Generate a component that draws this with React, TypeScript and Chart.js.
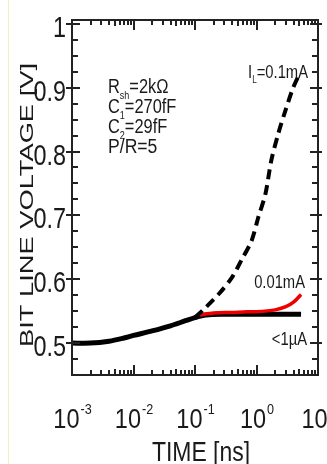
import React, { useEffect, useRef } from "react";
import { Chart, registerables } from "chart.js";

Chart.register(...registerables);

// ---- data ----
const timeLow = [0.001, 0.002, 0.004, 0.007, 0.01, 0.02, 0.04, 0.07, 0.1, 0.15, 0.3, 1, 3, 5.3];
const voltLow = [0.5, 0.5, 0.503, 0.508, 0.512, 0.519, 0.527, 0.535, 0.54, 0.544, 0.545, 0.545, 0.545, 0.545];

const timeMid = [0.12, 0.2, 0.4, 0.7, 1, 2, 3, 4, 5.3];
const voltMid = [0.544, 0.547, 0.548, 0.549, 0.549, 0.552, 0.557, 0.564, 0.576];

const timeHigh = [0.1, 0.15, 0.25, 0.4, 0.57, 0.83, 1.07, 1.4, 1.74, 2.26, 2.95, 3.95, 5.1];
const voltHigh = [0.54, 0.556, 0.578, 0.603, 0.63, 0.66, 0.697, 0.734, 0.786, 0.828, 0.864, 0.9, 0.923];

const yTickValues = [0.5, 0.6, 0.7, 0.8, 0.9, 1];
const yTickLabels = ["0.5", "0.6", "0.7", "0.8", "0.9", "1"];
const xTickValues = [0.001, 0.01, 0.1, 1, 10];
const xTickExponents = ["-3", "-2", "-1", "0", "1"];

const NARROW = '"Liberation Sans Narrow", "Liberation Sans", Arial, sans-serif';
const SANS = '"Liberation Sans", Arial, sans-serif';

function drawText(
  ctx: CanvasRenderingContext2D,
  s: string,
  x: number,
  y: number,
  size: number,
  sx: number,
  align: "left" | "right" | "center",
  family: string = NARROW
): number {
  ctx.save();
  ctx.font = `${size}px ${family}`;
  const w = ctx.measureText(s).width * sx;
  const x0 = align === "right" ? x - w : align === "center" ? x - w / 2 : x;
  ctx.translate(x0, y);
  ctx.scale(sx, 1);
  ctx.textAlign = "left";
  ctx.textBaseline = "alphabetic";
  ctx.fillStyle = "#1a1a1a";
  ctx.fillText(s, 0, 0);
  ctx.restore();
  return w;
}

function measure(ctx: CanvasRenderingContext2D, s: string, size: number, sx: number, family: string = NARROW) {
  ctx.save();
  ctx.font = `${size}px ${family}`;
  const w = ctx.measureText(s).width * sx;
  ctx.restore();
  return w;
}

function drawSub(
  ctx: CanvasRenderingContext2D,
  main: string,
  sub: string,
  rest: string,
  x: number,
  y: number,
  size: number,
  sx: number,
  align: "left" | "right"
) {
  const subSize = Math.round(size * 0.55);
  const total =
    measure(ctx, main, size, sx) + measure(ctx, sub, subSize, sx) + measure(ctx, rest, size, sx);
  let cx = align === "right" ? x - total : x;
  cx += drawText(ctx, main, cx, y, size, sx, "left");
  cx += drawText(ctx, sub, cx, y + size * 0.28, subSize, sx, "left");
  drawText(ctx, rest, cx, y, size, sx, "left");
}

const decorPlugin = {
  id: "decor",
  beforeDraw(chart: any) {
    const ctx = chart.ctx as CanvasRenderingContext2D;
    ctx.save();
    ctx.fillStyle = "#ffffff";
    ctx.fillRect(0, 0, chart.width, chart.height);
    ctx.fillStyle = "#f2eec4";
    ctx.fillRect(8, 0, 1, chart.height);
    ctx.restore();
  },
  afterDraw(chart: any) {
    const ctx = chart.ctx as CanvasRenderingContext2D;
    const { left, right, top, bottom } = chart.chartArea;
    const xs = chart.scales.x;
    const ys = chart.scales.y;
    ctx.save();
    ctx.strokeStyle = "#222";
    ctx.lineWidth = 2;
    ctx.strokeRect(left, top, right - left, bottom - top);

    for (let i = 19; i <= 40; i++) {
      const v = i * 0.025;
      const py = Math.round(ys.getPixelForValue(v));
      const major = i % 4 === 0;
      ctx.beginPath();
      if (major) {
        ctx.moveTo(left - 6, py);
        ctx.lineTo(left + 8, py);
        ctx.moveTo(right - 8, py);
        ctx.lineTo(right + 4, py);
      } else {
        ctx.moveTo(left, py);
        ctx.lineTo(left + 6, py);
        ctx.moveTo(right - 6, py);
        ctx.lineTo(right, py);
      }
      ctx.stroke();
    }
    for (let e = -3; e <= 1; e++) {
      for (let k = 1; k <= 9; k++) {
        const v = k * Math.pow(10, e);
        if (v > 10.0001) continue;
        const px = Math.round(xs.getPixelForValue(v));
        const major = k === 1;
        const len = major ? 10 : k === 5 ? 6 : 5;
        ctx.beginPath();
        ctx.moveTo(px, bottom);
        ctx.lineTo(px, bottom - len);
        ctx.moveTo(px, top);
        ctx.lineTo(px, top + len);
        ctx.stroke();
      }
    }

    yTickValues.forEach((v, i) => {
      const py = ys.getPixelForValue(v);
      drawText(ctx, yTickLabels[i], left - 6, py + 13, 30, 0.78, "right");
    });

    xTickValues.forEach((v, i) => {
      const px = xs.getPixelForValue(v);
      const base = "10";
      const exp = xTickExponents[i];
      const wb = measure(ctx, base, 28, 0.84);
      const we = measure(ctx, exp, 15, 0.84);
      const x0 = px - (wb + we) / 2;
      drawText(ctx, base, x0, 428, 28, 0.84, "left");
      drawText(ctx, exp, x0 + wb + 1, 414, 15, 0.84, "left");
    });

    drawText(ctx, "TIME [ns]", 201, 461, 28, 0.82, "center");

    ctx.save();
    ctx.translate(33, 205);
    ctx.rotate(-Math.PI / 2);
    ctx.font = `18px ${SANS}`;
    const t = "BIT LINE VOLTAGE [V]";
    const tw = ctx.measureText(t).width;
    ctx.scale(284 / tw, 1);
    ctx.fillStyle = "#1a1a1a";
    ctx.textAlign = "center";
    ctx.textBaseline = "alphabetic";
    ctx.fillText(t, 0, 0);
    ctx.restore();

    drawSub(ctx, "R", "sh", "=2kΩ", 108, 93, 20, 0.82, "left");
    drawSub(ctx, "C", "1", "=270fF", 108, 113, 20, 0.82, "left");
    drawSub(ctx, "C", "2", "=29fF", 108, 133, 20, 0.82, "left");
    drawText(ctx, "P/R=5", 108, 153, 20, 0.88, "left");

    drawSub(ctx, "I", "L", "=0.1mA", 308, 78, 18, 0.82, "right");
    drawText(ctx, "0.01mA", 305, 288, 18, 0.82, "right");
    drawText(ctx, "<1µA", 307, 345, 18, 0.82, "right");

    ctx.restore();
  },
};

export default function App() {
  const ref = useRef<HTMLCanvasElement | null>(null);
  useEffect(() => {
    if (!ref.current) return;
    const toPts = (xs: number[], ys: number[]) => xs.map((x, i) => ({ x, y: ys[i] }));
    const chart = new Chart(ref.current, {
      type: "scatter",
      data: {
        datasets: [
          {
            label: "0.1mA",
            data: toPts(timeHigh, voltHigh),
            showLine: true,
            borderColor: "#000",
            borderWidth: 4,
            borderDash: [10, 6],
            pointRadius: 0,
            tension: 0.3,
            order: 1,
          },
          {
            label: "0.01mA",
            data: toPts(timeMid, voltMid),
            showLine: true,
            borderColor: "#ee0000",
            borderWidth: 3.5,
            pointRadius: 0,
            tension: 0.3,
            order: 2,
          },
          {
            label: "<1µA",
            data: toPts(timeLow, voltLow),
            showLine: true,
            borderColor: "#000",
            borderWidth: 5,
            pointRadius: 0,
            tension: 0.3,
            order: 3,
          },
        ],
      },
      options: {
        animation: false,
        responsive: true,
        maintainAspectRatio: false,
        layout: { padding: { left: 72, top: 20, right: 9, bottom: 89 } },
        plugins: { legend: { display: false }, tooltip: { enabled: false } },
        scales: {
          x: { type: "logarithmic", min: 0.001, max: 10, display: false },
          y: { type: "linear", min: 0.45, max: 1.006, display: false },
        },
      },
      plugins: [decorPlugin],
    });
    return () => chart.destroy();
  }, []);
  return (
    <div style={{ position: "fixed", left: 0, top: 0, width: 327, height: 464, background: "#fff" }}>
      <canvas ref={ref} />
    </div>
  );
}
